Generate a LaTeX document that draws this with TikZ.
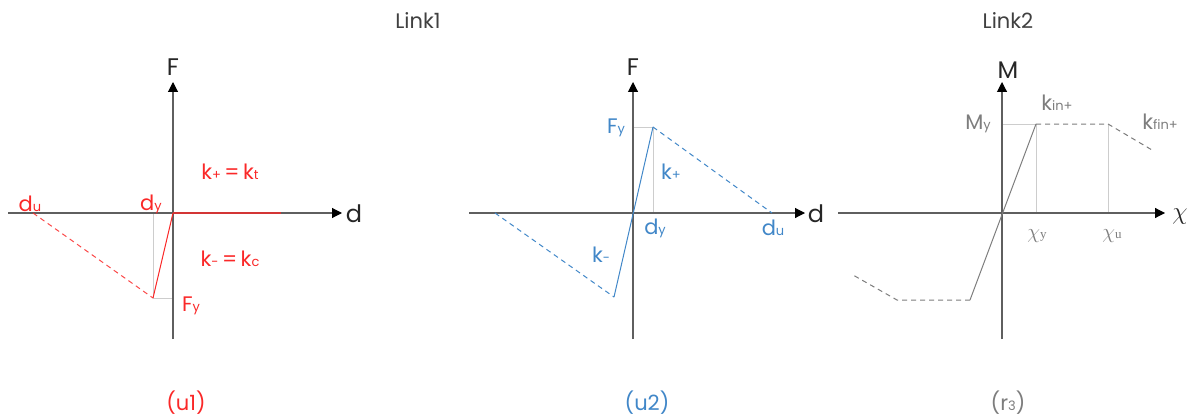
\documentclass[tikz,border=0pt]{standalone}
\usepackage{fontspec}
\setmainfont{Poppins}
\newfontfamily\grk{Liberation Serif}
\usetikzlibrary{arrows.meta}
\definecolor{lred}{RGB}{250,40,40}
\definecolor{lblue}{RGB}{65,135,200}
\definecolor{lgray}{RGB}{125,125,125}
\definecolor{axgray}{RGB}{95,95,95}
\definecolor{guidegray}{RGB}{205,205,205}
\newcommand{\lowsub}[1]{{\fontsize{13}{13}\selectfont #1}}
\tikzset{
  axis/.style={draw=axgray, line width=1.1pt, -{Triangle[length=10pt,width=10pt,color=black]}},
  guide/.style={draw=guidegray, line width=0.8pt},
  lbl/.style={inner sep=0pt, font=\fontsize{21}{23}\selectfont},
  axlbl/.style={inner sep=0pt, font=\fontsize{24}{26}\selectfont, text=black!85},
  capt/.style={inner sep=0pt, font=\fontsize{21}{23}\selectfont},
  solidcurve/.style={line width=1pt},
  dashcurve/.style={line width=1pt, dash pattern=on 5pt off 4pt},
}
\begin{document}
\begin{tikzpicture}[x=1pt,y=-1pt]
\useasboundingbox (0,0) rectangle (1198,417);
% titles
\node[capt, text=black!75] (link1) at (418,21) {Link1};
\node[capt, text=black!75] (link2) at (1008,21) {Link2};
% ---------------- panel u1 ----------------
\coordinate (o1) at (173,213);
\coordinate (v1b) at (173,339);
\coordinate (v1t) at (173,82);
\coordinate (h1l) at (8,213);
\coordinate (h1r) at (342,213);
\coordinate (du1) at (33,213);
\coordinate (dy1) at (153,213);
\coordinate (fy1) at (153,298);
\coordinate (fy1a) at (173,298);
\coordinate (pos1) at (281,213);
\draw[guide] (dy1) -- (fy1) -- (fy1a);
\draw[axis] (h1l) -- (h1r);
\draw[axis] (v1b) -- (v1t);
\draw[lred, solidcurve, line width=1.6pt, opacity=0.75] (o1) -- (pos1);
\draw[lred, dashcurve, opacity=0.85] (du1) -- (fy1);
\draw[lred, solidcurve] (fy1) -- (o1);
\node[axlbl] (F1) at (173,67) {F};
\node[axlbl] (dd1) at (354,214) {d};
\node[lbl, text=lred] (ldu1) at (30,204) {d\lowsub{u}};
\node[lbl, text=lred] (ldy1) at (151,204) {d\lowsub{y}};
\node[lbl, text=lred] (lfy1) at (191,306) {F\lowsub{y}};
\node[lbl, text=lred] (kp1) at (230,172) {k\lowsub{+}\,=\,k\lowsub{t}};
\node[lbl, text=lred] (km1) at (230,259) {k\lowsub{-}\,=\,k\lowsub{c}};
\node[capt, text=lred] (cu1) at (186,403) {(u1)};
% ---------------- panel u2 ----------------
\coordinate (o2) at (633,213);
\coordinate (v2b) at (633,339);
\coordinate (v2t) at (633,82);
\coordinate (h2l) at (469,213);
\coordinate (h2r) at (805,213);
\coordinate (top2) at (653,127);
\coordinate (top2a) at (633,127);
\coordinate (dy2) at (653,213);
\coordinate (du2) at (772,213);
\coordinate (bot2) at (614,297);
\coordinate (dun2) at (495,213);
\draw[guide] (top2a) -- (top2) -- (dy2);
\draw[axis] (h2l) -- (h2r);
\draw[axis] (v2b) -- (v2t);
\draw[lblue, solidcurve] (bot2) -- (top2);
\draw[lblue, dashcurve] (top2) -- (du2);
\draw[lblue, dashcurve] (dun2) -- (bot2);
\node[axlbl] (F2) at (633,67) {F};
\node[axlbl] (dd2) at (816,214) {d};
\node[lbl, text=lblue] (lfy2) at (616,128) {F\lowsub{y}};
\node[lbl, text=lblue] (kp2) at (671,172) {k\lowsub{+}};
\node[lbl, text=lblue] (ldy2) at (655,228) {d\lowsub{y}};
\node[lbl, text=lblue] (ldu2) at (773,228) {d\lowsub{u}};
\node[lbl, text=lblue] (km2) at (601,255) {k\lowsub{-}};
\node[capt, text=lblue] (cu2) at (647,403) {(u2)};
% ---------------- panel r3 ----------------
\coordinate (o3) at (1002,213);
\coordinate (v3b) at (1002,339);
\coordinate (v3t) at (1002,82);
\coordinate (h3l) at (838,213);
\coordinate (h3r) at (1165,213);
\coordinate (y3) at (1036,124);
\coordinate (y3a) at (1002,124);
\coordinate (u3) at (1108,124);
\coordinate (e3) at (1152,150);
\coordinate (xy3) at (1036,213);
\coordinate (xu3) at (1108,213);
\coordinate (ny3) at (970,300);
\coordinate (nu3) at (897,300);
\coordinate (ne3) at (853,275);
\draw[guide] (y3a) -- (y3) -- (xy3);
\draw[guide] (u3) -- (xu3);
\draw[axis] (h3l) -- (h3r);
\draw[axis] (v3b) -- (v3t);
\draw[lgray, solidcurve] (ny3) -- (y3);
\draw[lgray, dashcurve] (y3) -- (u3) -- (e3);
\draw[lgray, dashcurve] (ny3) -- (nu3) -- (ne3);
\node[axlbl] (M3) at (1008,70) {M};
\node[inner sep=0pt, text=black!85, font=\fontsize{24}{26}\selectfont] (chi3) at (1180,217) {$\chi$};
\node[lbl, text=lgray] (lmy3) at (978,124) {M\lowsub{y}};
\node[lbl, text=lgray] (kin3) at (1057,103) {k\lowsub{in+}};
\node[lbl, text=lgray] (kfin3) at (1160,122) {k\lowsub{fin+}};
\node[lbl, text=lgray] (lxy3) at (1037,236) {$\chi$\lowsub{\grk y}};
\node[lbl, text=lgray] (lxu3) at (1112,236) {$\chi$\lowsub{\grk u}};
\node[capt, text=lgray] (cr3) at (1008,403) {(r\lowsub{3})};
\end{tikzpicture}
\end{document}
